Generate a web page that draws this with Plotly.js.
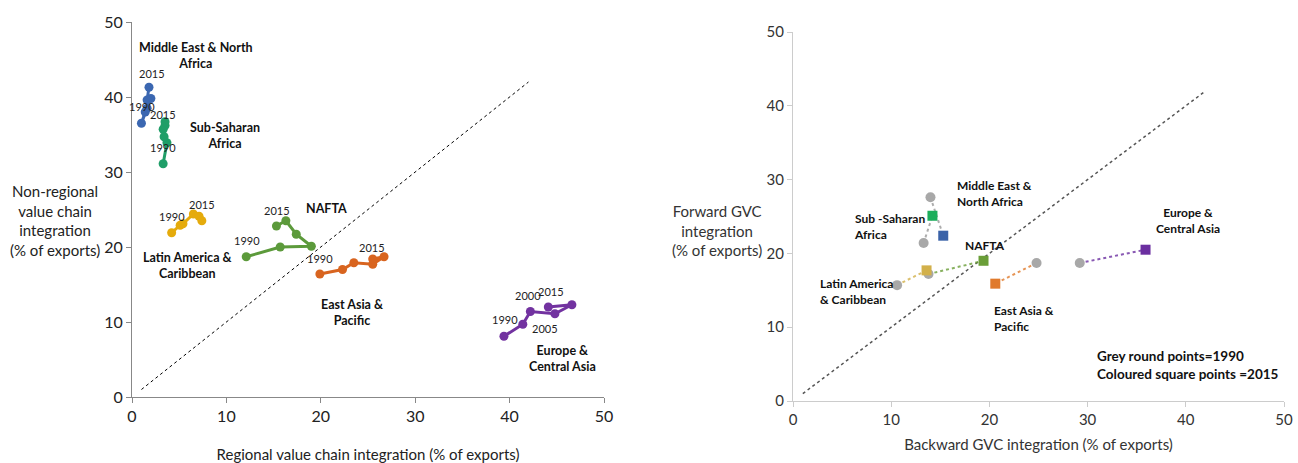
<!DOCTYPE html>
<html><head><meta charset="utf-8">
<script src="https://cdn.plot.ly/plotly-3.0.1.min.js"></script>
<style>html,body{margin:0;padding:0;background:#fff}#c{width:1298px;height:463px}</style>
</head><body><div id="c"></div>
<script>
// ---- Left chart: regional vs non-regional value chain integration (1990..2015) ----
const years = [1990, 1995, 2000, 2005, 2010, 2015];
const menaReg = [1.4, 1.0, 1.6, 2.0, 1.6, 1.8];
const menaNon = [38.0, 36.5, 38.5, 39.8, 39.6, 41.3];
const ssaReg = [3.3, 3.7, 3.4, 3.3, 3.5, 3.5];
const ssaNon = [31.1, 33.9, 34.7, 35.7, 36.2, 36.7];
const lacReg = [4.2, 5.1, 5.4, 6.5, 7.1, 7.4];
const lacNon = [21.9, 22.9, 23.1, 24.4, 24.1, 23.5];
const naftaReg = [12.1, 15.7, 19.0, 17.4, 16.3, 15.3];
const naftaNon = [18.7, 20.0, 20.1, 21.7, 23.5, 22.8];
const eapReg = [19.9, 22.3, 23.5, 25.5, 26.7, 25.5];
const eapNon = [16.4, 17.0, 17.9, 17.7, 18.7, 18.4];
const ecaReg = [39.4, 41.4, 42.2, 44.8, 46.6, 44.1];
const ecaNon = [8.1, 9.7, 11.4, 11.1, 12.3, 12.0];
const diag = [1, 42];

// ---- Right chart: backward vs forward GVC integration (1990 grey, 2015 coloured) ----
const regions = ["Middle East & North Africa", "Sub-Saharan Africa", "Latin America & Caribbean", "NAFTA", "East Asia & Pacific", "Europe & Central Asia"];
const back1990 = [14.0, 13.3, 10.6, 13.8, 24.8, 29.2];
const fwd1990 = [27.6, 21.4, 15.7, 17.2, 18.7, 18.7];
const back2015 = [15.3, 14.2, 13.6, 19.4, 20.6, 35.9];
const fwd2015 = [22.4, 25.1, 17.7, 19.0, 15.9, 20.5];
const colours = ["#3A62A8", "#1DAE5C", "#D2B04A", "#6A9E38", "#E07A2C", "#6B2FA0"];
const leftColours = ["#3B67B1", "#1F9E68", "#E5AB0C", "#5C9A3B", "#D8641F", "#7232A0"];

const FONT = "Lato, 'Open Sans', sans-serif";
const traces = [];
const leftSeries = [[menaReg, menaNon], [ssaReg, ssaNon], [lacReg, lacNon], [naftaReg, naftaNon], [eapReg, eapNon], [ecaReg, ecaNon]];
leftSeries.forEach((s, i) => {
  traces.push({x: s[0], y: s[1], xaxis: 'x', yaxis: 'y', mode: 'lines+markers', type: 'scatter',
    line: {color: leftColours[i], width: 3}, marker: {color: leftColours[i], size: 9}, text: years, hoverinfo: 'text'});
});
traces.push({x: diag, y: diag, xaxis: 'x', yaxis: 'y', mode: 'lines', type: 'scatter',
  line: {color: '#000', width: 1, dash: '3px,3px'}, hoverinfo: 'skip'});
traces.push({x: diag, y: diag, xaxis: 'x2', yaxis: 'y2', mode: 'lines', type: 'scatter',
  line: {color: '#555', width: 1.5, dash: '3px,3px'}, hoverinfo: 'skip'});
regions.forEach((r, i) => {
  const lc = (i === 0 || i === 1) ? '#999' : colours[i];
  traces.push({x: [back1990[i], back2015[i]], y: [fwd1990[i], fwd2015[i]], xaxis: 'x2', yaxis: 'y2',
    mode: 'lines', type: 'scatter', line: {color: lc, width: 2, dash: 'dot'}, opacity: 0.8, hoverinfo: 'skip'});
});
traces.push({x: back1990, y: fwd1990, xaxis: 'x2', yaxis: 'y2', mode: 'markers', type: 'scatter',
  marker: {color: '#A8A8A8', size: 10, symbol: 'circle'}, text: regions, hoverinfo: 'text'});
traces.push({x: back2015, y: fwd2015, xaxis: 'x2', yaxis: 'y2', mode: 'markers', type: 'scatter',
  marker: {color: colours, size: 10, symbol: 'square'}, text: regions, hoverinfo: 'text'});

function lab(xref, yref, x, y, text, opt) {
  return Object.assign({xref: xref, yref: yref, x: x, y: y, text: text, showarrow: false,
    font: {family: FONT, size: 12, color: '#111'}}, opt || {});
}
const B = (t) => '<b>' + t + '</b>';
const yr = {font: {family: FONT, size: 11, color: '#222'}};
const rl = {font: {family: FONT, size: 12.5, color: '#111'}};
const annotations = [
  lab('x','y',6.8,45.6,B('Middle East & North<br>Africa'),rl),
  lab('x','y',9.9,34.9,B('Sub-Saharan<br>Africa'),rl),
  lab('x','y',5.9,17.6,B('Latin America &<br>Caribbean'),rl),
  lab('x','y',20.6,25.2,B('NAFTA'),rl),
  lab('x','y',23.3,11.3,B('East Asia &<br>Pacific'),rl),
  lab('x','y',45.6,5.2,B('Europe &<br>Central Asia'),rl),
  lab('x','y',2.1,43.1,'2015',yr),
  lab('x','y',1.1,38.8,'1990',yr),
  lab('x','y',3.3,37.7,'2015',yr),
  lab('x','y',3.3,33.3,'1990',yr),
  lab('x','y',4.2,24.1,'1990',yr),
  lab('x','y',7.4,25.7,'2015',yr),
  lab('x','y',15.4,24.9,'2015',yr),
  lab('x','y',12.2,20.9,'1990',yr),
  lab('x','y',19.9,18.5,'1990',yr),
  lab('x','y',25.4,20.0,'2015',yr),
  lab('x','y',42.0,13.5,'2000',yr),
  lab('x','y',44.4,14.1,'2015',yr),
  lab('x','y',39.5,10.3,'1990',yr),
  lab('x','y',43.7,9.2,'2005',yr),
  lab('x2','y2',16.5,28.1,B('Middle East &<br>North Africa'),{xanchor:'left',align:'left'}),
  lab('x2','y2',6.0,23.6,B('Sub -Saharan<br>Africa'),{xanchor:'left',align:'left'}),
  lab('x2','y2',19.6,21.1,B('NAFTA')),
  lab('x2','y2',2.55,14.8,B('Latin America<br>& Caribbean'),{xanchor:'left',align:'left'}),
  lab('x2','y2',20.3,11.2,B('East Asia &<br>Pacific'),{xanchor:'left',align:'left'}),
  lab('x2','y2',40.2,24.4,B('Europe &<br>Central Asia')),
  lab('x2','y2',30.8,4.9,B('Grey round points=1990<br>Coloured square points =2015'),{xanchor:'left',align:'left',font:{family:FONT,size:13.5,color:'#111'}}),
  {xref:'paper',yref:'paper',x:55/1298,y:1-220/463,xanchor:'center',yanchor:'middle',showarrow:false,
   text:'Non-regional<br>value chain<br>integration<br>(% of exports)',font:{family:FONT,size:15,color:'#222'}},
  {xref:'paper',yref:'paper',x:717/1298,y:1-230/463,xanchor:'center',yanchor:'middle',showarrow:false,
   text:'Forward GVC<br>integration<br>(% of exports)',font:{family:FONT,size:15,color:'#333'}}
];

const tickFont = {family: FONT, size: 16, color: '#222'};
const layout = {
  width: 1298, height: 463, margin: {l: 0, r: 0, t: 0, b: 0},
  paper_bgcolor: '#fff', plot_bgcolor: '#fff', showlegend: false,
  xaxis: {domain: [132/1298, 604/1298], range: [0, 50], dtick: 10, showgrid: false, zeroline: false,
    showline: true, linecolor: '#888', ticks: 'outside', ticklen: 5, tickcolor: '#888', tickfont: tickFont,
    anchor: 'y', title: {text: 'Regional value chain integration (% of exports)', font: {family: FONT, size: 15, color: '#222'}, standoff: 26}},
  yaxis: {domain: [1-397/463, 1-22/463], range: [0, 50], dtick: 10, showgrid: false, zeroline: false,
    showline: true, linecolor: '#888', ticks: 'outside', ticklen: 5, tickcolor: '#888', tickfont: tickFont, anchor: 'x'},
  xaxis2: {domain: [793/1298, 1284/1298], range: [0, 50], dtick: 10, showgrid: false, zeroline: false,
    showline: true, linecolor: '#ccc', ticks: 'outside', ticklen: 5, tickcolor: '#ccc', tickfont: {family: FONT, size: 15, color: '#333'},
    anchor: 'y2', title: {text: 'Backward GVC integration (% of exports)', font: {family: FONT, size: 15, color: '#333'}, standoff: 12}},
  yaxis2: {domain: [1-401/463, 1-32/463], range: [0, 50], dtick: 10, showgrid: false, zeroline: false,
    showline: true, linecolor: '#ccc', ticks: 'outside', ticklen: 5, tickcolor: '#ccc', tickfont: {family: FONT, size: 15, color: '#333'}, anchor: 'x2'},
  annotations: annotations
};
Plotly.newPlot('c', traces, layout, {staticPlot: true});
</script></body></html>
